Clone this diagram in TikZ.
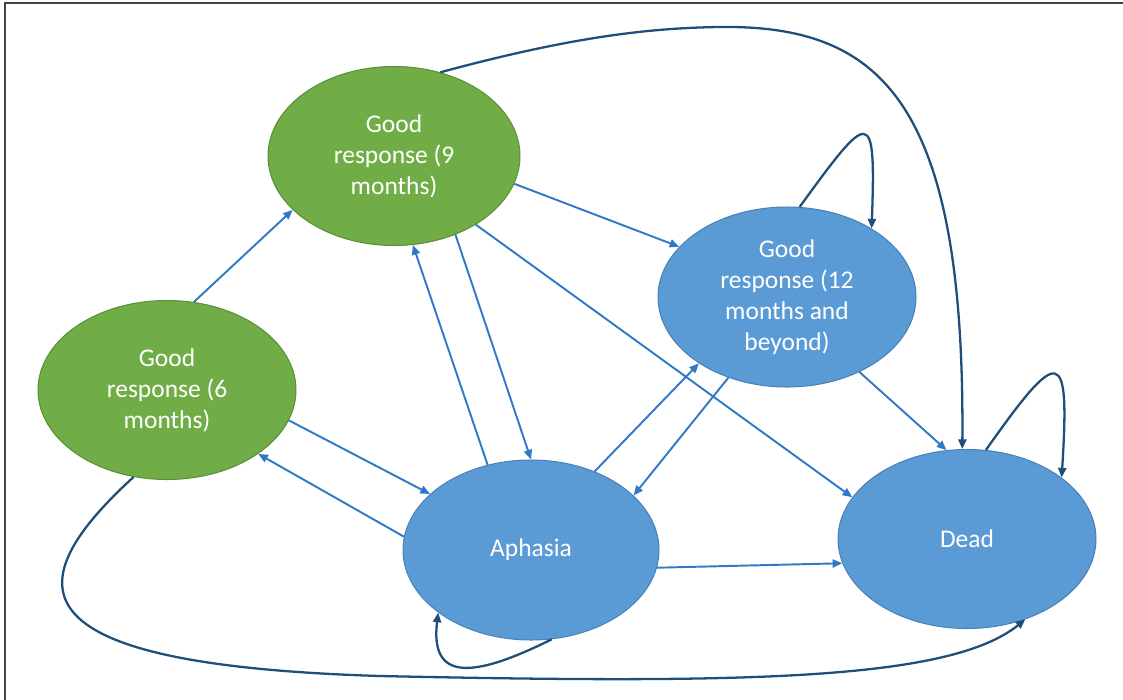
\documentclass[tikz,border=0pt]{standalone}
\usepackage{fontspec}
\setmainfont{Carlito}
\usepackage{xcolor}
\usetikzlibrary{shapes.geometric, arrows.meta}

\definecolor{stategreen}{HTML}{70AD47}
\definecolor{stategreenline}{HTML}{5B8F3A}
\definecolor{stateblue}{HTML}{5B9BD5}
\definecolor{statebblueline}{HTML}{4A82B8}
\definecolor{arrowblue}{HTML}{2F79C6}
\definecolor{arrownavy}{HTML}{1F4E79}
\definecolor{framegray}{HTML}{444444}

\begin{document}
\begin{tikzpicture}[x=0.02cm, y=-0.02cm,
		state/.style={ellipse, inner sep=0pt, minimum width=5.16cm, minimum height=3.58cm, text=white, align=center, font=\fontsize{14.5}{17.6}\selectfont, line width=0.6pt},
		greenstate/.style={state, fill=stategreen, draw=stategreenline},
		bluestate/.style={state, fill=stateblue, draw=statebblueline},
		trans/.style={draw=arrowblue, line width=1.1pt, -{Triangle[length=5.5pt, width=4.6pt]}},
		bendtrans/.style={draw=arrownavy, line width=1.3pt, -{Triangle[length=5.5pt, width=4.6pt]}}]
			\useasboundingbox (0,0) rectangle (1123,700);
			
			% moldura
			\draw[framegray, line width=1.2pt] (5,700)--(5,3)--(1123,3);
			
			% estados
			\node[greenstate] (g6) at (167,390) {Good\\response (6\\months)};
			\node[greenstate, minimum width=5.04cm] (g9) at (394,156) {Good\\response (9\\months)};
			\node[bluestate, minimum height=3.6cm] (g12) at (787,297) {Good\\response (12\\months and\\beyond)};
			\node[bluestate, minimum width=5.12cm, minimum height=3.6cm] (aph) at (531,550) {Aphasia};
			\node[bluestate] (dead) at (967,539) {Dead};
			
			% transicoes diretas
			\draw[trans] (g6.73)--(g9.208);
			\draw[trans] (g6.-14)--(aph.151);
			\draw[trans] (aph.174)--(g6.-35);
			\draw[trans] (aph.117)--(g9.-78);
			\draw[trans] (g9.-52)--(aph.90);
			\draw[trans] (g9.-13)--(g12.155);
			\draw[trans] (g9.-40)--(dead.160);
			\draw[trans] (aph.51)--(g12.217);
			\draw[trans] (g12.234)--(aph.28);
			\draw[trans] (g12.-46)--(dead.103);
			\draw[trans] (aph.-8)--(dead.191);
			
			% transicoes curvas
			\draw[bendtrans] (g9.61) .. controls (560,40) and (640,28) .. (720,27) .. controls (880,25) and (965,100) .. (dead.93);
			\draw[bendtrans] (g6.249) .. controls (10,590) and (20,665) .. (380,676) .. controls (750,684) and (950,680) .. (dead.-54);
			
			% lacos
			\draw[bendtrans] (g12.82) .. controls (870,110) and (876,105) .. (g12.39);
			\draw[bendtrans] (dead.78) .. controls (1060,345) and (1070,345) .. (dead.33);
			\draw[bendtrans] (aph.-77) .. controls (470,680) and (430,680) .. (aph.214);
		\end{tikzpicture}
\end{document}
